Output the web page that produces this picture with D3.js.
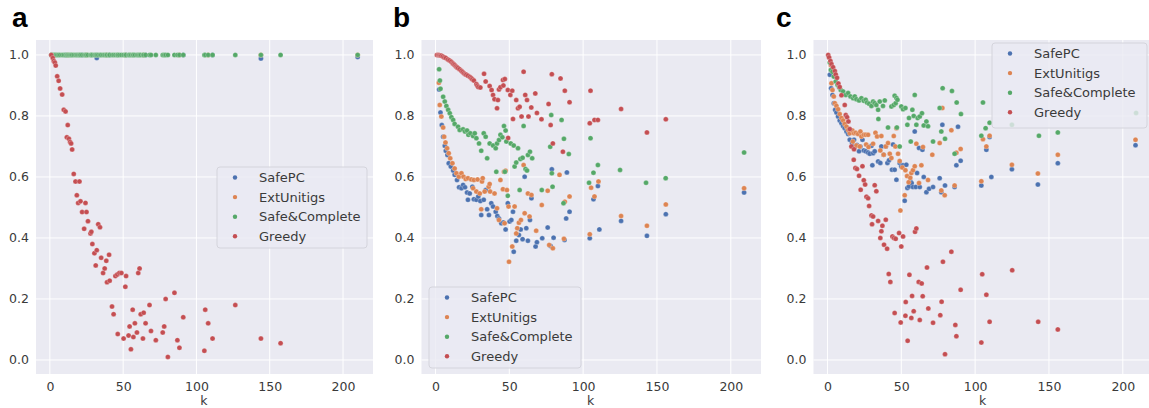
<!DOCTYPE html>
<html>
<head>
<meta charset="utf-8">
<script src="https://cdn.jsdelivr.net/npm/d3@7"></script>
<style>
  body { margin: 0; background: #fff; }
  svg text { font-family: "DejaVu Sans", sans-serif; }
</style>
</head>
<body>
<svg id="chart" width="1149" height="408"></svg>
<script>
const seriesNames = ['SafePC', 'ExtUnitigs', 'Safe&Complete', 'Greedy'];
const seriesColors = ['#4C72B0', '#DD8452', '#55A868', '#C44E52'];
const xTicks = [0, 50, 100, 150, 200];
const yTicks = [0.0, 0.2, 0.4, 0.6, 0.8, 1.0];
const panelLabels = ['a', 'b', 'c'];

// panel a  ([k, value])
const aSafePC = [[1,1],[10.7,1],[22,1],[32,0.99],[40.8,1],[52,1],[65.3,1],[91,1],[111,1],[144,0.988],[210,0.993]];
const aExtUnitigs = [[1,1],[12.2,1],[25,1],[38.5,1],[51.5,1],[64,1],[88.4,1],[108,1],[144,1],[210,1]];
const aSafeComplete = [[1,1],[2,1],[2.7,1],[3.4,1],[4,1],[5,1],[6,1],[7,1],[8.4,1],[9.5,1],[10.7,1],[11.6,1],[12.2,1],[13,1],[13.8,1],[14.5,1],[15.2,1],[16.3,1],[17.5,1],[18.4,1],[19.3,1],[20.2,1],[20.9,1],[22,1],[23.4,1],[24.3,1],[25,1],[26,1],[27.7,1],[28.3,1],[29,1],[30.4,1],[31.3,1],[32,1],[33,1],[34.2,1],[35,1],[36.3,1],[37.4,1],[38.5,1],[39,1],[40.4,1],[40.8,1],[42.4,1],[43.5,1],[44.7,1],[46,1],[46.3,1],[47.4,1],[48.8,1],[50.3,1],[51.5,1],[52,1],[53.7,1],[54.4,1],[55.3,1],[56.5,1],[57,1],[58,1],[59.4,1],[60.3,1],[61.2,1],[62,1],[63.5,1],[64,1],[65.3,1],[68,1],[69,1],[72.3,1],[77,1],[78,1],[79,1],[80.5,1],[85,1],[87,1],[88.4,1],[91,1],[105.4,1],[106,1],[108,1],[111,1],[126.5,1],[144,1],[157.4,1],[210,1]];
const aGreedy = [[1,1.0],[2,0.99],[2.7,0.98],[3.4,0.975],[4,0.965],[5,0.93],[6,0.915],[7,0.89],[8.4,0.87],[9.5,0.82],[10.7,0.815],[11.6,0.73],[12.2,0.77],[13,0.725],[13.8,0.715],[14.5,0.71],[15.2,0.69],[16.3,0.61],[17.5,0.585],[18.4,0.54],[19.3,0.515],[20.2,0.585],[20.9,0.52],[22,0.485],[23.4,0.43],[24.3,0.515],[25,0.485],[26,0.455],[27.7,0.415],[28.3,0.42],[29,0.38],[30.4,0.35],[31.3,0.31],[32,0.36],[33,0.445],[34.2,0.435],[35,0.335],[36.3,0.285],[37.4,0.3],[38.5,0.325],[39,0.255],[40.4,0.345],[40.8,0.26],[42.4,0.175],[43.5,0.15],[44.7,0.275],[46,0.28],[46.3,0.085],[47.4,0.285],[48.8,0.285],[50.3,0.07],[51.5,0.24],[52,0.275],[53.7,0.08],[54.4,0.11],[55.3,0.035],[56.5,0.165],[57,0.075],[58,0.12],[59.4,0.09],[60.3,0.285],[61.2,0.3],[62,0.15],[63.5,0.07],[64,0.155],[65.3,0.12],[68,0.18],[69,0.095],[72.3,0.065],[77,0.09],[78,0.11],[79,0.2],[80.5,0.01],[85,0.22],[87,0.065],[88.4,0.04],[91,0.14],[105.4,0.03],[106,0.165],[108,0.12],[111,0.07],[126.5,0.18],[144,0.07],[157.4,0.055]];

// panel b
const bSafePC = [[2.5,0.887],[3.4,0.811],[4.3,0.77],[5.2,0.732],[6.3,0.702],[7,0.686],[8.1,0.672],[9,0.645],[10.4,0.634],[12,0.621],[13,0.607],[14.6,0.59],[16,0.566],[17.6,0.563],[18.7,0.574],[20,0.566],[21.4,0.549],[22,0.525],[23.2,0.546],[25,0.568],[26,0.527],[27.7,0.525],[29,0.536],[30.4,0.521],[31,0.475],[32.7,0.525],[34,0.557],[35,0.494],[36.2,0.475],[37.8,0.514],[39,0.503],[40.8,0.486],[41.9,0.472],[43,0.464],[44.6,0.448],[46,0.451],[47.5,0.428],[49,0.514],[50.2,0.454],[51.4,0.459],[52.5,0.486],[53,0.355],[54.7,0.391],[56.5,0.41],[57.7,0.428],[59,0.396],[60.4,0.601],[61.5,0.432],[62.6,0.391],[64,0.459],[65,0.53],[67.8,0.372],[68.7,0.386],[72.3,0.399],[76,0.434],[78,0.374],[78.8,0.625],[80,0.401],[87.4,0.393],[88.5,0.464],[89,0.615],[90.8,0.486],[104.5,0.399],[107,0.527],[110,0.57],[111,0.428],[125.7,0.456],[143.2,0.407],[156,0.478],[209,0.549]];
const bExtUnitigs = [[2.3,0.909],[2.9,0.836],[4,0.798],[5.2,0.762],[5.9,0.732],[6.8,0.713],[7.9,0.694],[9,0.678],[10,0.661],[11.5,0.645],[13,0.628],[14.2,0.612],[15.8,0.601],[17.6,0.612],[19,0.601],[20.5,0.593],[22,0.596],[24.3,0.592],[25.5,0.563],[26,0.59],[27.7,0.552],[28.5,0.592],[30,0.546],[31,0.494],[31.5,0.585],[32,0.596],[33.3,0.552],[36,0.568],[36.7,0.577],[37,0.552],[40,0.546],[41.7,0.497],[43,0.459],[44,0.59],[45.7,0.56],[46.4,0.617],[46.8,0.448],[47.5,0.62],[48.4,0.557],[49.5,0.503],[49.8,0.322],[52,0.372],[53.6,0.503],[54.7,0.415],[55.4,0.432],[56.5,0.45],[57.9,0.459],[59.7,0.639],[60.4,0.481],[62.6,0.546],[63.7,0.47],[65,0.541],[68.2,0.424],[72,0.508],[76,0.555],[77,0.377],[79.5,0.366],[84,0.607],[87,0.397],[87.6,0.519],[90.8,0.536],[104.5,0.412],[105.4,0.565],[107.7,0.536],[110.4,0.585],[125.7,0.472],[143.2,0.44],[156,0.51],[209,0.563]];
const bSafeComplete = [[2.5,0.953],[3,0.916],[3.4,0.889],[5.2,0.863],[6.3,0.847],[7.4,0.833],[8.6,0.82],[9.7,0.809],[10.8,0.796],[12,0.787],[13,0.774],[15.3,0.765],[16.4,0.754],[18.7,0.756],[20,0.749],[21.4,0.752],[22.3,0.738],[23.6,0.743],[25.5,0.734],[26.6,0.743],[27.7,0.727],[29.5,0.71],[31,0.686],[32.7,0.743],[34,0.732],[35,0.661],[36.7,0.71],[39,0.703],[40.8,0.694],[41.2,0.617],[41.7,0.71],[43,0.721],[44,0.738],[45.3,0.73],[46.4,0.767],[47,0.617],[47.5,0.752],[48,0.716],[49,0.538],[51,0.71],[53,0.703],[53.6,0.634],[54.7,0.647],[55.9,0.694],[57,0.557],[57.5,0.659],[59,0.663],[59.7,0.767],[61,0.626],[62,0.621],[62.6,0.672],[64,0.683],[65.5,0.661],[72,0.557],[77.7,0.699],[78.4,0.803],[78.8,0.612],[79.3,0.568],[85.4,0.787],[86.7,0.514],[87,0.725],[90.3,0.675],[104,0.581],[105,0.727],[107,0.614],[110,0.639],[125,0.623],[142.6,0.581],[155.9,0.596],[209,0.68]];
const bGreedy = [[1,1.0],[2,1.0],[2.7,0.999],[3.4,0.998],[4,0.997],[5,0.995],[6,0.992],[7,0.99],[8.4,0.985],[9.5,0.982],[10.7,0.978],[11.6,0.973],[12.2,0.97],[13,0.967],[13.8,0.963],[14.5,0.96],[15.2,0.957],[16.3,0.953],[17.5,0.948],[18.4,0.944],[19.3,0.94],[20.2,0.937],[20.9,0.935],[22,0.932],[23.4,0.928],[24.3,0.924],[25,0.92],[26,0.916],[27.7,0.905],[28.3,0.9],[29,0.895],[30.4,0.893],[32.9,0.938],[34,0.913],[36.7,0.898],[38,0.885],[39,0.869],[40,0.855],[41.7,0.825],[42.3,0.852],[43,0.887],[44,0.894],[45.7,0.918],[46,0.9],[47,0.921],[49,0.885],[49.2,0.728],[50.7,0.869],[52,0.883],[52.5,0.79],[54.7,0.852],[55.9,0.825],[57,0.83],[58.3,0.798],[59.7,0.945],[60.8,0.869],[62,0.852],[63,0.798],[64.9,0.828],[67.6,0.874],[68.7,0.81],[71.8,0.789],[76.6,0.839],[78,0.77],[78.8,0.937],[79.5,0.71],[84.7,0.923],[86.3,0.683],[87.6,0.883],[90.8,0.845],[104.5,0.776],[105,0.883],[107.7,0.787],[110,0.787],[125.7,0.823],[143.2,0.746],[156,0.789]];

// panel c
const cSafePC = [[1.6,0.935],[2.5,0.891],[3.4,0.869],[4.3,0.842],[5.2,0.82],[6.1,0.811],[7.2,0.798],[8.3,0.785],[9.5,0.776],[10.6,0.767],[11.7,0.76],[12.9,0.749],[14,0.741],[15.1,0.722],[16.7,0.711],[18,0.722],[18.5,0.698],[20,0.705],[21.4,0.684],[22.3,0.7],[23.7,0.722],[24.6,0.687],[25.9,0.684],[27.5,0.68],[28.6,0.676],[29.8,0.702],[30.4,0.638],[30.9,0.678],[32,0.684],[34.3,0.651],[35.8,0.646],[36.5,0.7],[38.1,0.673],[39.5,0.7],[40.6,0.646],[41.7,0.655],[43.7,0.624],[44.4,0.706],[45.5,0.624],[46.7,0.591],[48.9,0.646],[50,0.634],[51.2,0.638],[52.3,0.522],[53.4,0.64],[54.1,0.564],[55.2,0.569],[56.1,0.586],[57,0.58],[57.9,0.567],[59.1,0.749],[59.8,0.567],[60.7,0.613],[62,0.695],[62.5,0.567],[64.3,0.689],[65.2,0.6],[67,0.55],[68.8,0.561],[71.5,0.567],[76,0.596],[77.1,0.55],[77.8,0.771],[79.6,0.572],[86.1,0.567],[87.3,0.638],[88.4,0.765],[90.2,0.653],[104.2,0.572],[107.6,0.689],[109.8,0.731],[111,0.6],[124.9,0.625],[142.5,0.575],[156,0.645],[208.6,0.704]];
const cExtUnitigs = [[2.3,0.967],[2.7,0.907],[3.4,0.885],[4.3,0.864],[5,0.842],[6.1,0.833],[7.2,0.822],[8.3,0.806],[9.5,0.793],[10.6,0.785],[11.7,0.774],[12.9,0.765],[14,0.754],[15.1,0.743],[16.9,0.752],[17.2,0.716],[18,0.743],[19.2,0.745],[19.6,0.703],[20.7,0.741],[21.9,0.7],[22.3,0.749],[23,0.733],[24.6,0.738],[25.9,0.738],[26.2,0.706],[27.5,0.738],[27.8,0.698],[30.9,0.709],[32.5,0.745],[33.6,0.733],[35.8,0.687],[36.5,0.734],[38.1,0.673],[39.5,0.7],[41,0.711],[42.2,0.676],[43.3,0.662],[44.9,0.734],[46,0.7],[46.7,0.76],[47.8,0.676],[48.9,0.652],[49.4,0.49],[50.7,0.631],[52.3,0.54],[52.8,0.622],[53.9,0.603],[55,0.583],[56.1,0.597],[56.8,0.613],[57.9,0.622],[59.1,0.635],[60.2,0.709],[62,0.58],[63.6,0.638],[64.7,0.698],[68.1,0.59],[71,0.673],[76,0.711],[77.1,0.556],[77.8,0.826],[79.4,0.54],[83.9,0.753],[86.1,0.572],[87.3,0.679],[90.2,0.692],[104.2,0.586],[105.3,0.724],[107.6,0.7],[109.8,0.735],[124.9,0.64],[142.5,0.611],[156,0.673],[208.6,0.722]];
const cSafeComplete = [[1.6,0.975],[2.3,0.951],[3.4,0.945],[4.3,0.929],[5.6,0.913],[6.8,0.902],[7.9,0.894],[9,0.885],[10.6,0.88],[12.4,0.869],[14,0.875],[15.6,0.864],[17.4,0.858],[18.5,0.864],[19.6,0.855],[21.4,0.851],[23,0.858],[24.6,0.85],[25.9,0.853],[26.8,0.844],[28.2,0.84],[29.8,0.833],[30.9,0.847],[32,0.842],[33.1,0.836],[34.3,0.82],[34.5,0.79],[35.4,0.847],[37.6,0.833],[38.8,0.851],[41,0.762],[43.3,0.831],[44.9,0.836],[45.5,0.866],[46.2,0.842],[46.7,0.859],[47,0.762],[47.4,0.853],[48.9,0.7],[50,0.831],[51.2,0.822],[52.8,0.826],[54.1,0.771],[55.2,0.793],[56.4,0.716],[57.5,0.82],[58.4,0.8],[59.1,0.869],[60.2,0.771],[61.1,0.793],[62.5,0.798],[64,0.809],[65.2,0.769],[67,0.782],[68.1,0.766],[71.5,0.716],[76,0.826],[77.1,0.749],[78,0.891],[79.6,0.725],[84.3,0.882],[86.1,0.676],[87.5,0.844],[90.4,0.806],[104.2,0.735],[105.3,0.844],[107.1,0.76],[109.8,0.778],[124.9,0.771],[143.2,0.735],[156,0.746],[209,0.81]];
const cGreedy = [[0.5,1.0],[1.1,0.992],[2,0.98],[2.7,0.97],[3.8,0.96],[5,0.947],[5.6,0.936],[6.5,0.925],[7.4,0.906],[8.3,0.895],[9.5,0.868],[11.7,0.836],[12.4,0.803],[13.3,0.796],[14.2,0.782],[15.1,0.757],[16.2,0.7],[17.8,0.656],[18,0.691],[18.9,0.629],[20,0.626],[21.4,0.604],[22.5,0.558],[23.7,0.635],[24.6,0.589],[25.5,0.575],[26.4,0.535],[27.5,0.53],[28.2,0.505],[29.8,0.474],[30.2,0.445],[30.9,0.47],[32,0.573],[33.1,0.553],[34.3,0.456],[35.8,0.4],[36.5,0.422],[37.2,0.44],[38.3,0.378],[39.5,0.46],[40.4,0.365],[41.5,0.282],[42.6,0.256],[44,0.405],[45,0.4],[45.5,0.154],[46.2,0.397],[48.5,0.416],[49.6,0.123],[50,0.372],[51.2,0.405],[52.8,0.145],[53,0.19],[54.3,0.063],[55.5,0.279],[56.8,0.138],[57.3,0.21],[58.4,0.16],[59.3,0.42],[60.2,0.431],[61.8,0.256],[62.5,0.131],[63.8,0.251],[64.5,0.209],[67.4,0.303],[68.3,0.169],[71.5,0.122],[76.4,0.147],[77.3,0.191],[78.2,0.322],[79.6,0.019],[83.9,0.355],[86.6,0.115],[87.3,0.078],[90.2,0.23],[104.2,0.057],[104.8,0.281],[107.6,0.214],[109.8,0.125],[125.1,0.294],[142.7,0.125],[156,0.1]];

const panels = [
  { label: panelLabels[0], left: 36, right: 373, labelX: 12,
    legend: { x: 217, y: 167, w: 150, h: 81 },
    series: [aSafePC, aExtUnitigs, aSafeComplete, aGreedy] },
  { label: panelLabels[1], left: 421.5, right: 761, labelX: 393,
    legend: { x: 429, y: 287, w: 152, h: 81 },
    series: [bSafePC, bExtUnitigs, bSafeComplete, bGreedy] },
  { label: panelLabels[2], left: 813.5, right: 1153, labelX: 776,
    legend: { x: 992, y: 43, w: 155, h: 85 },
    series: [cSafePC, cExtUnitigs, cSafeComplete, cGreedy] }
];

const plotTop = 40, plotBottom = 374;
const svg = d3.select('#chart');

const yScale = d3.scaleLinear()
  .domain([-0.046, 1.049])
  .range([plotBottom, plotTop]);

panels.forEach((p) => {
  const xScale = d3.scaleLinear()
    .domain([-9.45, 220.45])
    .range([p.left, p.right]);

  const g = svg.append('g').attr('class', 'panel');

  // background
  g.append('rect')
    .attr('x', p.left).attr('y', plotTop)
    .attr('width', p.right - p.left).attr('height', plotBottom - plotTop)
    .attr('fill', '#EAEAF2');

  // grid
  g.append('g').selectAll('line')
    .data(xTicks).enter().append('line')
    .attr('x1', d => xScale(d)).attr('x2', d => xScale(d))
    .attr('y1', plotTop).attr('y2', plotBottom)
    .attr('stroke', '#fff').attr('stroke-width', 1);

  g.append('g').selectAll('line')
    .data(yTicks).enter().append('line')
    .attr('x1', p.left).attr('x2', p.right)
    .attr('y1', d => yScale(d)).attr('y2', d => yScale(d))
    .attr('stroke', '#fff').attr('stroke-width', 1);

  // axes
  const xAxis = d3.axisBottom(xScale)
    .tickValues(xTicks)
    .tickSize(0)
    .tickPadding(8)
    .tickFormat(d3.format('d'));

  const yAxis = d3.axisLeft(yScale)
    .tickValues(yTicks)
    .tickSize(0)
    .tickPadding(7)
    .tickFormat(d3.format('.1f'));

  const gx = g.append('g')
    .attr('transform', `translate(0,${plotBottom})`)
    .call(xAxis);
  const gy = g.append('g')
    .attr('transform', `translate(${p.left},0)`)
    .call(yAxis);

  [gx, gy].forEach(ax => {
    ax.select('.domain').remove();
    ax.selectAll('text')
      .attr('fill', '#3a3a3a')
      .style('font-size', '12.5px')
      .style('font-family', '"DejaVu Sans", sans-serif');
  });

  g.append('text')
    .attr('x', xScale(105))
    .attr('y', 405)
    .attr('text-anchor', 'middle')
    .attr('fill', '#3a3a3a')
    .style('font-size', '12.5px')
    .text('k');

  // points
  p.series.forEach((s, si) => {
    g.append('g').selectAll('circle')
      .data(s).enter().append('circle')
      .attr('cx', d => xScale(d[0]))
      .attr('cy', d => yScale(d[1]))
      .attr('r', 2.5)
      .attr('fill', seriesColors[si])
      .attr('stroke', '#fff')
      .attr('stroke-width', 0.25);
  });

  // legend
  const lg = g.append('g');
  lg.append('rect')
    .attr('x', p.legend.x).attr('y', p.legend.y)
    .attr('width', p.legend.w).attr('height', p.legend.h)
    .attr('rx', 3)
    .attr('fill', '#EAEAF2').attr('fill-opacity', 0.8)
    .attr('stroke', '#d4d4dc').attr('stroke-width', 1);

  seriesNames.forEach((name, si) => {
    const cy = p.legend.y + 10.5 + si * 19.6;
    lg.append('circle')
      .attr('cx', p.legend.x + 18).attr('cy', cy)
      .attr('r', 2.2)
      .attr('fill', seriesColors[si]);
    lg.append('text')
      .attr('x', p.legend.x + 42).attr('y', cy)
      .attr('dy', '0.36em')
      .attr('fill', '#3a3a3a')
      .style('font-size', '13px')
      .text(name);
  });

  // panel letter
  svg.append('text')
    .attr('x', p.labelX).attr('y', 27)
    .style('font-family', '"Liberation Sans", Arial, sans-serif')
    .style('font-weight', 'bold')
    .style('font-size', '28px')
    .attr('fill', '#000')
    .text(p.label);
});
</script>
</body>
</html>
